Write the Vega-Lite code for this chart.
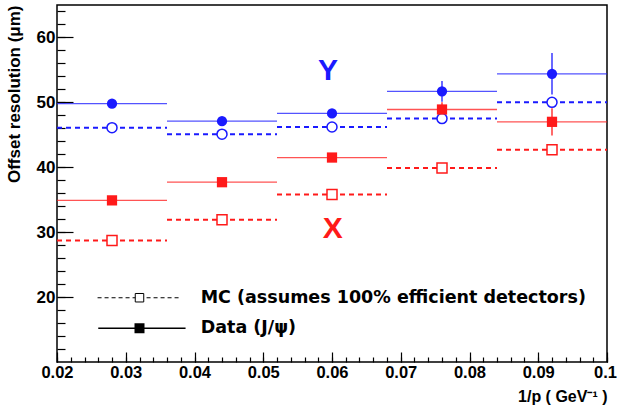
{
  "$schema": "https://vega.github.io/schema/vega-lite/v6.json",
  "width": 550,
  "height": 357,
  "autosize": {"type": "none"},
  "padding": {"left": 57, "top": 5, "right": 10, "bottom": 48},
  "background": "white",
  "config": {
    "view": {"stroke": "black", "strokeWidth": 1.5},
    "axis": {
      "labelFont": "Liberation Sans", "labelFontWeight": "bold", "labelFontSize": 16, "labelColor": "black",
      "titleFont": "Liberation Sans", "titleFontWeight": "bold", "titleColor": "black",
      "domain": false, "grid": false, "tickColor": "black", "tickWidth": 1.2
    }
  },
  "datasets": {
    "pts": [
      {"x": 0.028, "x1": 0.02, "x2": 0.036, "y": 49.8, "coord": "Y", "kind": "Data"},
      {"x": 0.044, "x1": 0.036, "x2": 0.052, "y": 47.1, "coord": "Y", "kind": "Data"},
      {"x": 0.06, "x1": 0.052, "x2": 0.068, "y": 48.3, "coord": "Y", "kind": "Data"},
      {"x": 0.076, "x1": 0.068, "x2": 0.084, "y": 51.7, "ylo": 50.1, "yhi": 53.3, "coord": "Y", "kind": "Data"},
      {"x": 0.092, "x1": 0.084, "x2": 0.1, "y": 54.4, "ylo": 51.2, "yhi": 57.6, "coord": "Y", "kind": "Data"},
      {"x": 0.028, "x1": 0.02, "x2": 0.036, "y": 46.1, "coord": "Y", "kind": "MC"},
      {"x": 0.044, "x1": 0.036, "x2": 0.052, "y": 45.1, "coord": "Y", "kind": "MC"},
      {"x": 0.06, "x1": 0.052, "x2": 0.068, "y": 46.2, "coord": "Y", "kind": "MC"},
      {"x": 0.076, "x1": 0.068, "x2": 0.084, "y": 47.5, "coord": "Y", "kind": "MC"},
      {"x": 0.092, "x1": 0.084, "x2": 0.1, "y": 50.0, "coord": "Y", "kind": "MC"},
      {"x": 0.028, "x1": 0.02, "x2": 0.036, "y": 34.9, "coord": "X", "kind": "Data"},
      {"x": 0.044, "x1": 0.036, "x2": 0.052, "y": 37.7, "coord": "X", "kind": "Data"},
      {"x": 0.06, "x1": 0.052, "x2": 0.068, "y": 41.5, "coord": "X", "kind": "Data"},
      {"x": 0.076, "x1": 0.068, "x2": 0.084, "y": 48.9, "ylo": 47.8, "yhi": 50.0, "coord": "X", "kind": "Data"},
      {"x": 0.092, "x1": 0.084, "x2": 0.1, "y": 47.0, "ylo": 44.9, "yhi": 49.1, "coord": "X", "kind": "Data"},
      {"x": 0.028, "x1": 0.02, "x2": 0.036, "y": 28.7, "coord": "X", "kind": "MC"},
      {"x": 0.044, "x1": 0.036, "x2": 0.052, "y": 31.9, "coord": "X", "kind": "MC"},
      {"x": 0.06, "x1": 0.052, "x2": 0.068, "y": 35.8, "coord": "X", "kind": "MC"},
      {"x": 0.076, "x1": 0.068, "x2": 0.084, "y": 39.9, "coord": "X", "kind": "MC"},
      {"x": 0.092, "x1": 0.084, "x2": 0.1, "y": 42.7, "coord": "X", "kind": "MC"}
    ],
    "tags": [
      {"x": 0.0594, "y": 54.9, "label": "Y", "coord": "Y"},
      {"x": 0.0601, "y": 30.5, "label": "X", "coord": "X"}
    ],
    "leg": [
      {"kind": "MC", "x1": 0.0259, "x2": 0.0381, "xm": 0.032, "tx": 0.0409, "y": 19.9, "label": "MC (assumes 100% efficient detectors)"},
      {"kind": "Data", "x1": 0.026, "x2": 0.0387, "xm": 0.032, "tx": 0.0409, "y": 15.2, "label": "Data (J/ψ)"}
    ]
  },
  "layer": [
    {
      "data": {"name": "pts"},
      "transform": [{"filter": "datum.kind === 'MC'"}],
      "mark": {"type": "rule", "strokeWidth": 2, "strokeDash": [5, 4]},
      "encoding": {
        "x": {"field": "x1", "type": "quantitative", "scale": {"domain": [0.02, 0.1], "nice": false, "zero": false},
          "axis": {"orient": "bottom", "values": [0.02,0.022,0.024,0.026,0.028,0.03,0.032,0.034,0.036,0.038,0.04,0.042,0.044,0.046,0.048,0.05,0.052,0.054,0.056,0.058,0.06,0.062,0.064,0.066,0.068,0.07,0.072,0.074,0.076,0.078,0.08,0.082,0.084,0.086,0.088,0.09,0.092,0.094,0.096,0.098,0.1], "labels": false, "tickSize": -5, "title": null}},
        "x2": {"field": "x2"},
        "y": {"field": "y", "type": "quantitative", "scale": {"domain": [10, 65], "nice": false, "zero": false},
          "axis": {"orient": "left", "values": [12,14,16,18,20,22,24,26,28,30,32,34,36,38,40,42,44,46,48,50,52,54,56,58,60,62,64], "labels": false, "tickSize": -8, "title": null}},
        "color": {"field": "coord", "type": "nominal", "scale": {"domain": ["X", "Y"], "range": ["#ff1a1a", "#1a1aff"]}, "legend": null}
      }
    },
    {
      "data": {"name": "pts"},
      "transform": [{"filter": "datum.kind === 'Data'"}],
      "mark": {"type": "rule", "strokeWidth": 1.3, "opacity": 0.75},
      "encoding": {
        "x": {"field": "x1", "type": "quantitative",
          "axis": {"orient": "bottom", "values": [0.02,0.03,0.04,0.05,0.06,0.07,0.08,0.09,0.1], "format": ".2~f", "labelFlush": false, "labelFontSize": 16.5, "labelOffset": {"condition": {"test": "datum.value > 0.099", "value": -2}, "value": 0}, "tickSize": -10, "labelPadding": 12, "title": "1/p ( GeV⁻¹ )", "titleFontSize": 16, "titleAnchor": "end", "titleAlign": "right", "titleX": 550, "titleY": 34, "titleBaseline": "middle"}},
        "x2": {"field": "x2"},
        "y": {"field": "y", "type": "quantitative",
          "axis": {"orient": "left", "values": [20,30,40,50,60], "labelFontSize": 17, "tickSize": -16, "labelPadding": 18, "title": "Offset resolution (μm)", "titleFontSize": 17, "titleAngle": -90, "titleX": -43, "titleY": 0, "titleAlign": "right", "titleBaseline": "middle"}},
        "color": {"field": "coord", "type": "nominal", "legend": null}
      }
    },
    {
      "data": {"name": "pts"},
      "transform": [{"filter": "isValid(datum.ylo)"}],
      "mark": {"type": "rule", "strokeWidth": 1.3},
      "encoding": {
        "x": {"field": "x", "type": "quantitative", "axis": null},
        "y": {"field": "ylo", "type": "quantitative", "axis": null},
        "y2": {"field": "yhi"},
        "color": {"field": "coord", "type": "nominal", "legend": null}
      }
    },
    {
      "data": {"name": "pts"},
      "transform": [{"filter": "datum.kind === 'MC'"}],
      "mark": {"type": "point", "filled": false, "fill": "white", "fillOpacity": 1, "opacity": 1, "strokeWidth": 1.5, "size": 100},
      "encoding": {
        "x": {"field": "x", "type": "quantitative", "axis": null},
        "y": {"field": "y", "type": "quantitative", "axis": null},
        "color": {"field": "coord", "type": "nominal", "legend": null},
        "shape": {"field": "coord", "type": "nominal", "scale": {"domain": ["X", "Y"], "range": ["square", "circle"]}, "legend": null}
      }
    },
    {
      "data": {"name": "pts"},
      "transform": [{"filter": "datum.kind === 'Data'"}],
      "mark": {"type": "point", "filled": true, "opacity": 1, "size": 105},
      "encoding": {
        "x": {"field": "x", "type": "quantitative", "axis": null},
        "y": {"field": "y", "type": "quantitative", "axis": null},
        "color": {"field": "coord", "type": "nominal", "legend": null},
        "shape": {"field": "coord", "type": "nominal", "legend": null}
      }
    },
    {
      "data": {"name": "tags"},
      "mark": {"type": "text", "font": "Liberation Sans", "fontWeight": "bold", "fontSize": 30, "baseline": "middle", "align": "center"},
      "encoding": {
        "x": {"field": "x", "type": "quantitative", "axis": null},
        "y": {"field": "y", "type": "quantitative", "axis": null},
        "text": {"field": "label"},
        "color": {"field": "coord", "type": "nominal", "legend": null}
      }
    },
    {
      "data": {"name": "leg"},
      "transform": [{"filter": "datum.kind === 'MC'"}],
      "mark": {"type": "rule", "color": "black", "strokeWidth": 1.2, "strokeDash": [4, 3]},
      "encoding": {
        "x": {"field": "x1", "type": "quantitative", "axis": null},
        "x2": {"field": "x2"},
        "y": {"field": "y", "type": "quantitative", "axis": null}
      }
    },
    {
      "data": {"name": "leg"},
      "transform": [{"filter": "datum.kind === 'Data'"}],
      "mark": {"type": "rule", "color": "black", "strokeWidth": 1.5},
      "encoding": {
        "x": {"field": "x1", "type": "quantitative", "axis": null},
        "x2": {"field": "x2"},
        "y": {"field": "y", "type": "quantitative", "axis": null}
      }
    },
    {
      "data": {"name": "leg"},
      "transform": [{"filter": "datum.kind === 'MC'"}],
      "mark": {"type": "point", "shape": "square", "filled": false, "fill": "white", "fillOpacity": 1, "stroke": "black", "strokeWidth": 1, "opacity": 1, "size": 72},
      "encoding": {
        "x": {"field": "xm", "type": "quantitative", "axis": null},
        "y": {"field": "y", "type": "quantitative", "axis": null}
      }
    },
    {
      "data": {"name": "leg"},
      "transform": [{"filter": "datum.kind === 'Data'"}],
      "mark": {"type": "point", "shape": "square", "filled": true, "color": "black", "opacity": 1, "size": 100},
      "encoding": {
        "x": {"field": "xm", "type": "quantitative", "axis": null},
        "y": {"field": "y", "type": "quantitative", "axis": null}
      }
    },
    {
      "data": {"name": "leg"},
      "mark": {"type": "text", "font": "DejaVu Sans", "fontWeight": "bold", "fontSize": 17.5, "align": "left", "baseline": "middle", "color": "black"},
      "encoding": {
        "x": {"field": "tx", "type": "quantitative", "axis": null},
        "y": {"field": "y", "type": "quantitative", "axis": null},
        "text": {"field": "label"}
      }
    }
  ],
  "resolve": {"axis": {"x": "independent", "y": "independent"}}
}
